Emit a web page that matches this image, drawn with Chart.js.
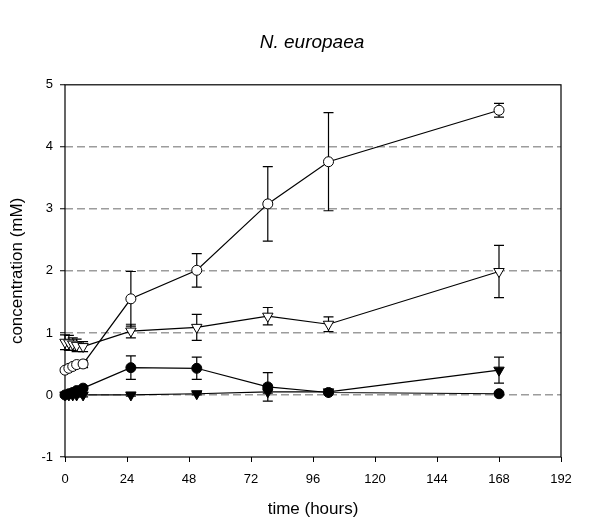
<!DOCTYPE html>
<html><head><meta charset="utf-8">
<script src="https://cdn.jsdelivr.net/npm/chart.js@4"></script>
<style>html,body{margin:0;padding:0;background:#fff}#wrap{width:603px;height:523px}</style>
</head><body><div id="wrap"><canvas id="c" width="603" height="523"></canvas></div>
<script>
// ---- data ----
const timeHours = [0, 1.5, 3, 4.5, 7, 25.5, 51, 78.5, 102, 168];
const openCircle    = [0.40, 0.43, 0.46, 0.49, 0.50, 1.55, 2.01, 3.08, 3.76, 4.59];
const openCircleErr = [0.03, 0.03, 0.04, 0.04, 0.06, 0.44, 0.27, 0.60, 0.79, 0.11];
const openTri       = [0.85, 0.84, 0.82, 0.80, 0.78, 1.03, 1.09, 1.27, 1.14, 1.99];
const openTriErr    = [0.12, 0.12, 0.10, 0.10, 0.08, 0.11, 0.21, 0.14, 0.12, 0.42];
const filledCircle    = [0.00, 0.02, 0.04, 0.07, 0.11, 0.44, 0.43, 0.13, 0.04, 0.02];
const filledCircleErr = [0.02, 0.02, 0.02, 0.03, 0.03, 0.19, 0.18, 0.23, 0.02, 0.02];
const filledTri       = [0.00, 0.00, 0.00, 0.00, 0.00, 0.00, 0.02, 0.05, 0.05, 0.40];
const filledTriErr    = [0.03, 0.03, 0.03, 0.03, 0.03, 0.02, 0.02, 0.02, 0.02, 0.21];
const xTickValues = [0, 24, 48, 72, 96, 120, 144, 168, 192];
const yTickValues = [-1, 0, 1, 2, 3, 4, 5];
const chartTitle = 'N. europaea';
const xTitle = 'time (hours)';
const yTitle = 'concentration (mM)';

const FONT = "'Liberation Sans', Arial, Helvetica, sans-serif";
const pts = vals => vals.map((v, i) => ({x: timeHours[i], y: v}));

function mkSet(vals, errs, style, fill, radius) {
  return {
    data: pts(vals), errors: errs,
    borderColor: '#000', borderWidth: 1.2, tension: 0, fill: false,
    pointStyle: style, pointRotation: style === 'triangle' ? 180 : 0,
    pointRadius: radius, pointHoverRadius: radius,
    pointBackgroundColor: fill, pointBorderColor: '#000', pointBorderWidth: 1,
    clip: false, yAxisID: 'y', xAxisID: 'x'
  };
}

const errorBars = {
  id: 'errorBars',
  beforeDatasetsDraw(chart) {
    const {ctx, scales: {x, y}} = chart;
    ctx.save();
    ctx.strokeStyle = '#000';
    ctx.lineWidth = 1.2;
    chart.data.datasets.forEach(ds => {
      const errs = ds.errors;
      if (!errs) return;
      ds.data.forEach((p, j) => {
        const e = errs[j];
        if (!e) return;
        const px = x.getPixelForValue(p.x);
        const t = y.getPixelForValue(p.y + e);
        const b = y.getPixelForValue(p.y - e);
        ctx.beginPath();
        ctx.moveTo(px, t); ctx.lineTo(px, b);
        ctx.moveTo(px - 5, t); ctx.lineTo(px + 5, t);
        ctx.moveTo(px - 5, b); ctx.lineTo(px + 5, b);
        ctx.stroke();
      });
    });
    ctx.restore();
  }
};

const frame = {
  id: 'frame',
  beforeDatasetsDraw(chart) {
    const {ctx, chartArea: a} = chart;
    ctx.save();
    ctx.strokeStyle = '#000';
    ctx.lineWidth = 1.2;
    ctx.strokeRect(a.left, a.top, a.right - a.left, a.bottom - a.top);
    ctx.restore();
  }
};

new Chart(document.getElementById('c'), {
  type: 'line',
  data: {
    datasets: [
      mkSet(filledTri, filledTriErr, 'triangle', '#000', 6),
      mkSet(filledCircle, filledCircleErr, 'circle', '#000', 5),
      mkSet(openTri, openTriErr, 'triangle', '#fff', 6),
      mkSet(openCircle, openCircleErr, 'circle', '#fff', 5)
    ]
  },
  options: {
    responsive: false,
    animation: false,
    devicePixelRatio: 1,
    layout: {padding: {left: 21, right: 0, top: 0, bottom: 0}},
    plugins: {
      legend: {display: false},
      tooltip: {enabled: false},
      title: {
        display: true, text: chartTitle, color: '#000',
        font: {family: FONT, size: 19, style: 'italic', weight: 'normal'},
        padding: {top: 31, bottom: 31}
      }
    },
    scales: {
      x: {
        type: 'linear', min: 0, max: 192,
        afterFit: s => { s.height = 66; },
        afterBuildTicks: s => { s.ticks = xTickValues.map(v => ({value: v})); },
        ticks: {color: '#000', padding: 10, font: {family: FONT, size: 13}, maxRotation: 0},
        grid: {drawOnChartArea: false, drawTicks: true, tickLength: 5, tickColor: '#000', tickWidth: 1},
        border: {display: false},
        title: {display: true, text: xTitle, color: '#000', font: {family: FONT, size: 17}, padding: {top: 4, bottom: 3}}
      },
      y: {
        type: 'linear', position: 'left', min: -1, max: 5,
        afterFit: s => { s.width = 44; },
        afterBuildTicks: s => { s.ticks = yTickValues.map(v => ({value: v})); },
        ticks: {color: '#000', padding: 7, font: {family: FONT, size: 13}},
        grid: {
          drawOnChartArea: true, drawTicks: true, tickLength: 5, tickColor: '#000', tickWidth: 1,
          lineWidth: 1.5,
          color: c => (c.tick && c.tick.value >= 0 && c.tick.value <= 4) ? '#9c9c9c' : 'rgba(0,0,0,0)'
        },
        border: {display: false, dash: [8, 4]},
        title: {display: true, text: yTitle, color: '#000', font: {family: FONT, size: 17}, padding: {top: -14, bottom: 0}}
      },
      yRight: {
        type: 'linear', position: 'right', min: -1, max: 5,
        afterFit: s => { s.width = 42; },
        ticks: {display: false},
        grid: {display: false, drawOnChartArea: false, drawTicks: false},
        border: {display: false}
      }
    }
  },
  plugins: [errorBars, frame]
});
</script>
</body></html>
